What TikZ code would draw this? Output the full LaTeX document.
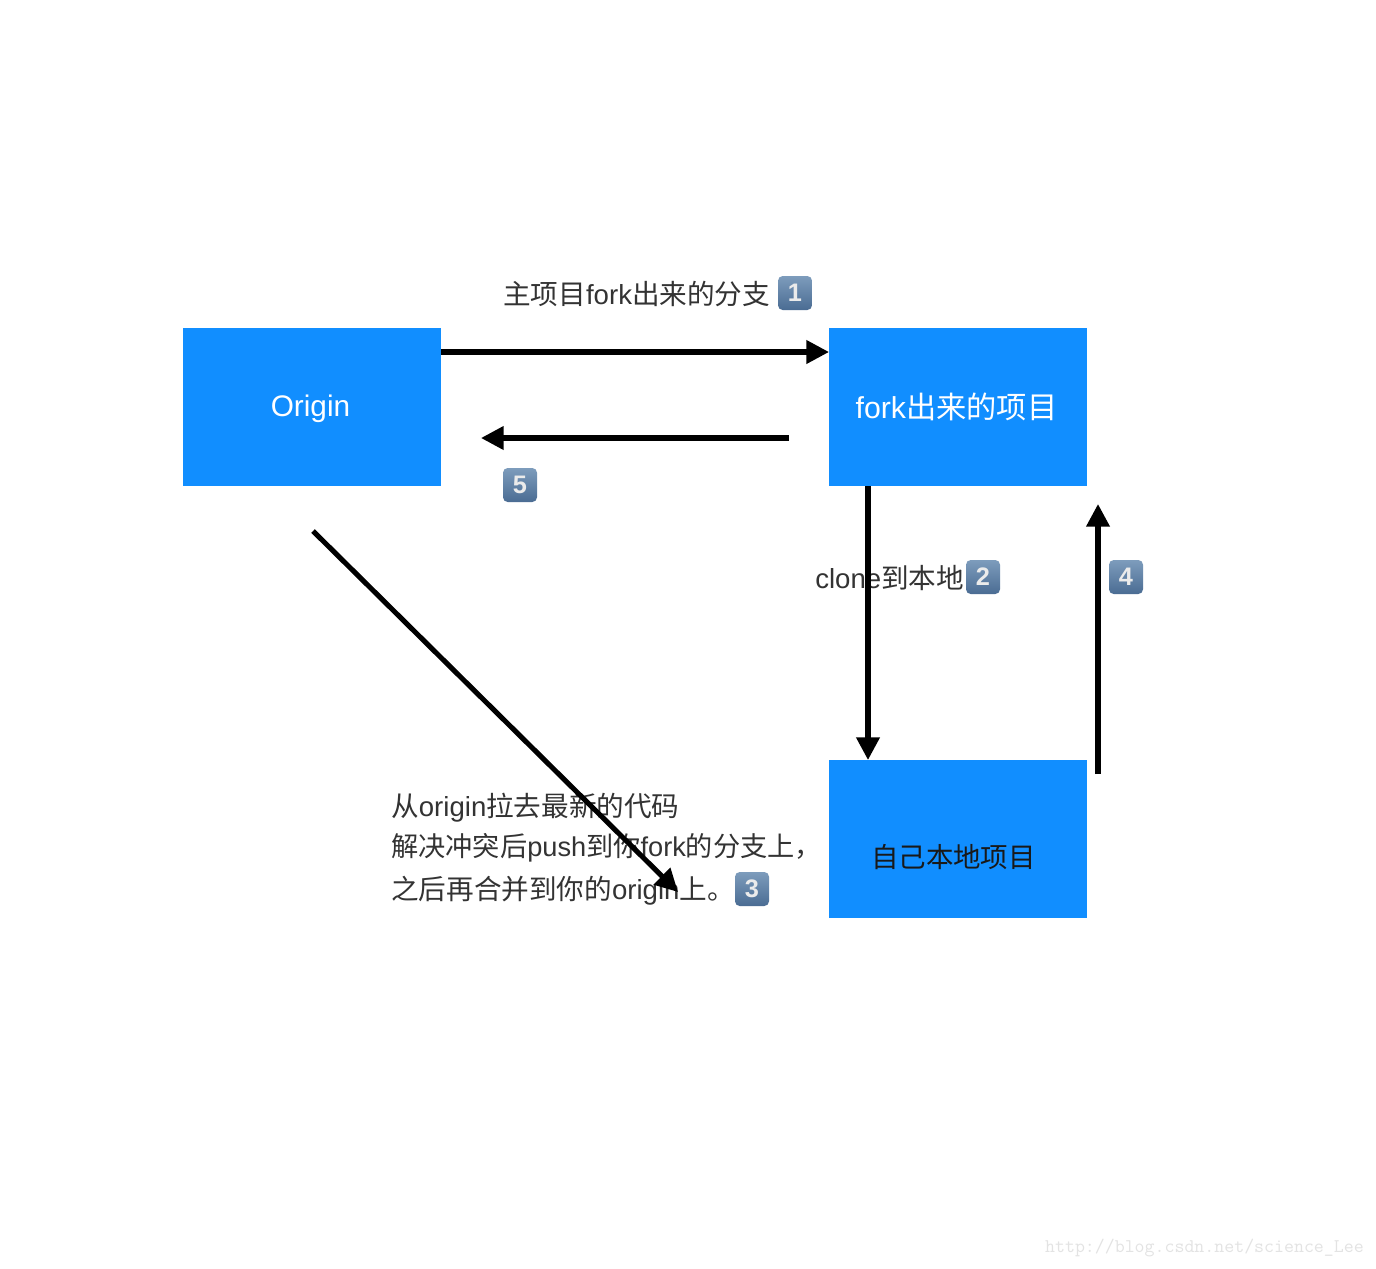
\documentclass[tikz,border=0pt]{standalone}
\usepackage{fontspec}
\setmainfont{Liberation Sans}
\newfontfamily\cjk{Noto Sans CJK SC}
\newcommand{\zh}[1]{{\cjk #1}}
\usetikzlibrary{arrows.meta}
\definecolor{boxblue}{HTML}{118EFF}
\definecolor{labelgrey}{HTML}{333333}
\definecolor{badgetop}{HTML}{7D9CBC}
\definecolor{badgebot}{HTML}{4A6C93}
\tikzset{
  box/.style={fill=boxblue,draw=none,minimum width=193.5pt,minimum height=118.5pt,inner sep=0pt,anchor=north west},
  flow/.style={line width=3.8pt,draw=black,-{Triangle[length=17pt,width=17pt]}},
  lab/.style={inner sep=0pt,anchor=west,text=labelgrey,font=\fontsize{20.7}{24}\selectfont},
  badge/.style={rounded corners=3.5pt,top color=badgetop,bottom color=badgebot,draw=none,
    minimum width=25.5pt,minimum height=25.5pt,inner sep=0pt,text=white!92!black,font=\fontsize{19}{22}\bfseries\selectfont},
}
\begin{document}
\begin{tikzpicture}[x=0.75pt,y=-0.75pt]
\useasboundingbox (0,0) rectangle (1376,1268);
\fill[white] (0,0) rectangle (1376,1268);

\node[box] (origin) at (183,328) {};
\node[box] (fork) at (829,328) {};
\node[box] (local) at (829,760) {};

\node[inner sep=0pt,text=white,font=\fontsize{22.3}{26}\selectfont] (originlab) at (310.5,409) {Origin};
\node[inner sep=0pt,text=white,font=\fontsize{22.7}{26}\selectfont] (forklab) at (956.5,407) {fork\zh{出来的项目}};
\node[inner sep=0pt,text=black!90,font=\fontsize{20.6}{26}\selectfont] (locallab) at (953.5,857) {\zh{自己本地项目}};

\node[lab] (l1) at (503,294) {\zh{主项目}fork\zh{出来的分支}};
\node[badge] (b1) at (795,293) {1};
\node[badge] (b5) at (520,485) {5};
\node[lab] (l2) at (815,578) {clone\zh{到本地}};
\node[badge] (b2) at (983,577) {2};
\node[badge] (b4) at (1126,577) {4};
\node[lab] (l3a) at (391,808) {\zh{从}origin\zh{拉去最新的代码}};
\node[lab,font=\fontsize{20.4}{24}\selectfont] (l3b) at (391,848) {\zh{解决冲突后}push\zh{到你}fork\zh{的分支上，}};
\node[lab] (l3c) at (391,891) {\zh{之后再合并到你的}origin\zh{上。}};
\node[badge] (b3) at (752,889) {3};

\coordinate (a1s) at (441,352);
\coordinate (a1e) at (829,352);
\coordinate (a2s) at (789,438);
\coordinate (a2e) at (481,438);
\coordinate (a3s) at (868,486);
\coordinate (a3e) at (868,760);
\coordinate (a4s) at (1098,774);
\coordinate (a4e) at (1098,504);
\coordinate (a5s) at (313,531);
\coordinate (a5e) at (678,892);

\draw[flow] (a1s) -- (a1e);
\draw[flow] (a2s) -- (a2e);
\draw[flow] (a3s) -- (a3e);
\draw[flow] (a4s) -- (a4e);
\draw[flow] (a5s) -- (a5e);

\node[inner sep=0pt,anchor=east,text=black!11,font=\ttfamily\fontsize{14.5}{16}\selectfont] (wm) at (1364,1248) {http://blog.csdn.net/science\_Lee};
\end{tikzpicture}
\end{document}
